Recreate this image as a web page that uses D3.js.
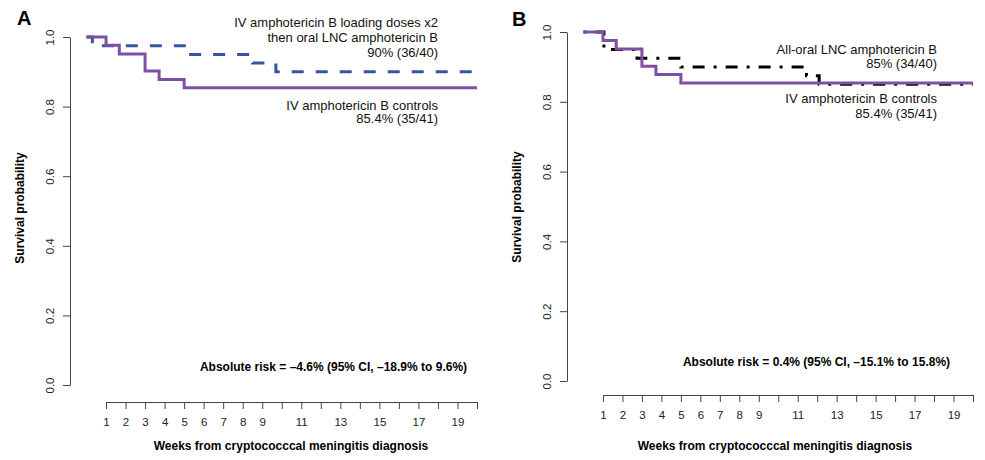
<!DOCTYPE html>
<html>
<head>
<meta charset="utf-8">
<script src="https://cdn.jsdelivr.net/npm/d3@7"></script>
<style>
  body { margin: 0; background: #fff; }
  svg { font-family: "Liberation Sans", Arial, sans-serif; }
  .axis path, .axis line { stroke: #444; }
  .axis text { fill: #222; font-size: 11.5px; }
</style>
</head>
<body>
<div id="chart"></div>
<script>
// weeks on the x axis, survival probabilities on the y axis
const weekTicks = [1, 2, 3, 4, 5, 6, 7, 8, 9, 10, 11, 12, 13, 14, 15, 16, 17, 18, 19, 20];
const weekLabels = [1, 2, 3, 4, 5, 6, 7, 8, 9, 11, 13, 15, 17, 19];
const survTicks = [0, 0.2, 0.4, 0.6, 0.8, 1.0];

// IV amphotericin B controls (35/41 survived)
const controlWeeks = [0, 1.0, 1.68, 3.0, 3.72, 5.0, 20];
const controlSurv = [1, 0.976, 0.951, 0.902, 0.878, 0.854, 0.854];

// IV loading doses x2 then oral LNC (36/40)
const loadingWeeks = [0, 0.3, 5.1, 8.5, 9.7, 20];
const loadingSurv = [1, 0.975, 0.95, 0.925, 0.9, 0.9];

// All-oral LNC amphotericin B (34/40)
const oralWeeks = [0, 1.05, 2.75, 5.0, 11.45, 12.1, 20];
const oralSurv = [1, 0.95, 0.925, 0.9, 0.875, 0.85, 0.85];

const w = 985, h = 460;
const purple = '#7f4fa3', blue = '#3953a4';

const svg = d3.select('#chart').append('svg')
    .attr('width', w)
    .attr('height', h);

const toPoints = (weeks, surv) => weeks.map((t, i) => ({ t: t, s: surv[i] }));

const drawPanel = (p) => {
    const x = d3.scaleLinear().domain([0, 20]).range([p.x0, p.x20]);
    const y = d3.scaleLinear().domain([0, 1]).range([p.y0, p.y1]);
    const g = svg.append('g');

    // y axis
    const yAxis = g.append('g')
        .attr('class', 'axis')
        .attr('transform', 'translate(' + p.yAxisX + ',0)')
        .call(d3.axisLeft(y).tickValues(survTicks).tickFormat(d3.format('.1f')).tickSize(7).tickSizeOuter(0));
    yAxis.selectAll('text')
        .attr('transform', 'rotate(-90)')
        .attr('text-anchor', 'middle')
        .attr('x', 0)
        .attr('dy', 0)
        .attr('y', -16);
    yAxis.selectAll('.tick line').attr('stroke', '#777');

    // x axis, drawn from week 1 to 20
    const xa = d3.scaleLinear().domain([1, 20]).range([x(1), x(20)]);
    const xAxis = g.append('g')
        .attr('class', 'axis')
        .attr('transform', 'translate(0,' + p.xAxisY + ')')
        .call(d3.axisBottom(xa).tickValues(weekTicks)
            .tickFormat(d => weekLabels.includes(d) ? d : '')
            .tickSize(7).tickSizeOuter(0));
    xAxis.selectAll('text').attr('y', 16).attr('dy', '0.71em');
    xAxis.selectAll('.tick line').attr('stroke', '#555');

    const line = d3.line()
        .x(d => x(d.t))
        .y(d => y(d.s))
        .curve(d3.curveStepAfter);

    g.append('path')
        .datum(toPoints(p.other.weeks, p.other.surv))
        .attr('d', line)
        .attr('fill', 'none')
        .attr('stroke', p.other.color)
        .attr('stroke-width', 3)
        .attr('stroke-dasharray', p.other.dash);

    g.append('path')
        .datum(toPoints(controlWeeks, controlSurv))
        .attr('d', line)
        .attr('fill', 'none')
        .attr('stroke', purple)
        .attr('stroke-width', 3);

    // labels
    g.append('text')
        .text(p.letter)
        .attr('x', p.letterX)
        .attr('y', p.letterY)
        .attr('font-weight', 'bold')
        .attr('font-size', 20);

    g.append('text')
        .text('Survival probability')
        .attr('transform', 'translate(' + p.yLabelX + ',' + p.yLabelY + ') rotate(-90)')
        .attr('text-anchor', 'middle')
        .attr('font-weight', 'bold')
        .attr('font-size', 12);

    g.append('text')
        .text('Weeks from cryptococccal meningitis diagnosis')
        .attr('x', p.xLabelX)
        .attr('y', 450)
        .attr('text-anchor', 'middle')
        .attr('font-weight', 'bold')
        .attr('font-size', 12);

    g.selectAll('text.lab')
        .data(p.labels)
        .enter()
        .append('text')
        .attr('class', 'lab')
        .text(d => d[0])
        .attr('x', p.labelRight)
        .attr('y', d => d[1])
        .attr('text-anchor', 'end')
        .attr('font-size', 13)
        .attr('fill', '#111');

    g.append('text')
        .text(p.risk)
        .attr('x', p.riskX)
        .attr('y', p.riskY)
        .attr('text-anchor', 'middle')
        .attr('font-weight', 'bold')
        .attr('font-size', 12);
};

drawPanel({
    letter: 'A', letterX: 17, letterY: 25,
    x0: 86.5, x20: 477, y0: 385, y1: 37, yAxisX: 70, xAxisY: 402,
    yLabelX: 24, yLabelY: 208, xLabelX: 291,
    other: { weeks: loadingWeeks, surv: loadingSurv, color: blue, dash: '12 12' },
    labelRight: 438,
    labels: [
        ['IV amphotericin B loading doses x2', 26.5],
        ['then oral LNC amphotericin B', 41.5],
        ['90% (36/40)', 56.5],
        ['IV amphotericin B controls', 109.5],
        ['85.4% (35/41)', 123]
    ],
    risk: 'Absolute risk = \u20134.6% (95% CI, \u201318.9% to 9.6%)', riskX: 333.5, riskY: 371
});

drawPanel({
    letter: 'B', letterX: 512, letterY: 26,
    x0: 583.5, x20: 973, y0: 381, y1: 32, yAxisX: 567, xAxisY: 395,
    yLabelX: 521, yLabelY: 207, xLabelX: 775,
    other: { weeks: oralWeeks, surv: oralSurv, color: '#000', dash: '3 9 12 9' },
    labelRight: 937,
    labels: [
        ['All-oral LNC amphotericin B', 53.5],
        ['85% (34/40)', 68],
        ['IV amphotericin B controls', 102.5],
        ['85.4% (35/41)', 117.5]
    ],
    risk: 'Absolute risk = 0.4% (95% CI, \u201315.1% to 15.8%)', riskX: 816.5, riskY: 366
});
</script>
</body>
</html>
